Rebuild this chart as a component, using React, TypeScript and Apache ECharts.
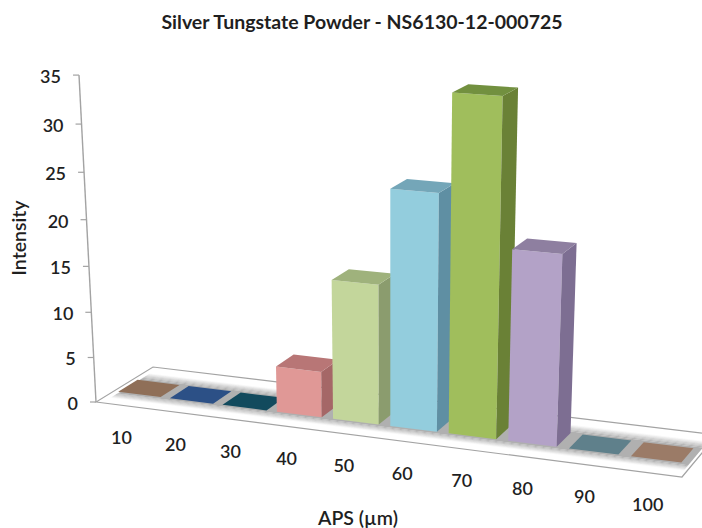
import React, { useEffect, useRef } from "react";
import * as echarts from "echarts";

const titleText = "Silver Tungstate Powder - NS6130-12-000725";
const xName = "APS (µm)";
const yName = "Intensity";
const categories = ["10", "20", "30", "40", "50", "60", "70", "80", "90", "100"];
const intensity = [0, 0, 0, 5, 15, 25, 35, 20, 0, 0];
const yTicks = [0, 5, 10, 15, 20, 25, 30, 35];
const frontColors = ["#8b6d57", "#2b4f84", "#12495c", "#e09896", "#c3d69b", "#93cddd", "#a0be5c", "#b3a2c7", "#5f7f8a", "#9a7a66"];
const topColors = ["#8f6f58", "#2c5086", "#124a5d", "#b87676", "#9fb27c", "#74a6b8", "#72903f", "#8e7fa0", "#5f808b", "#9b7b67"];
const sideColors = ["#8b6d57", "#2b4f84", "#12495c", "#a56767", "#8b9c6e", "#5f8fa3", "#6a8136", "#7d6e92", "#5f7f8a", "#9a7a66"];

const W = 702;
const H = 528;
const FONT = "Lato, 'Open Sans', sans-serif";
const TEXT = "#1f1f1f";
const LINE = "#a3a3a3";

// Perspective camera: u along the categories, w floor depth, t height (0..1)
function project(u: number, w: number, t: number): number[] {
  const D = 1 - 0.09406 * u + 0.04484 * w - 0.0545 * t;
  const x = (521.85 * u + 63.86 * w + 96 - 21.3 * t) / D;
  const y = (30.13 * u - 18.54 * w + 402 - 331 * t) / D;
  return [x, y];
}

const poly = (points: number[][], style: any) => ({ type: "polygon", silent: true, shape: { points }, style });
const text = (s: string, x: number, y: number, align: string, size: number) => ({
  type: "text",
  silent: true,
  style: {
    text: s, x, y, align, textAlign: align, verticalAlign: "middle", textVerticalAlign: "middle",
    fill: TEXT, font: `600 ${size}px ${FONT}`,
  },
});

function renderFloor() {
  const children: any[] = [];
  children.push(
    poly([project(0, 0, 0), project(1, 0, 0), project(1, 1, 0), project(0, 1, 0)], { fill: "#ffffff", stroke: LINE, lineWidth: 1.2 })
  );
  const band = (w0: number, w1: number, alpha: number) =>
    poly([project(0.012, w0, 0), project(0.995, w0, 0), project(0.995, w1, 0), project(0.012, w1, 0)], {
      fill: `rgba(176,176,176,${alpha})`,
    });
  children.push(band(0.26, 0.68, 1));
  const steps = 6;
  for (let s = 0; s < steps; s++) {
    const a = 1 - (s + 0.5) / steps;
    children.push(band(0.26 - (s + 1) * 0.02, 0.26 - s * 0.02, a));
    children.push(band(0.68 + s * 0.025, 0.68 + (s + 1) * 0.025, a));
  }
  return { type: "group", children };
}

function renderYAxis(params: any, api: any) {
  const t = 1 - api.coord([0, api.value(1)])[1] / H;
  const p = project(0, 0, t);
  const children: any[] = [
    { type: "line", silent: true, shape: { x1: p[0] - 6, y1: p[1], x2: p[0], y2: p[1] }, style: { stroke: LINE, lineWidth: 1.2 } },
    text(String(api.value(1)), p[0] - 18, p[1] + 1, "right", 18),
  ];
  if (params.dataIndex === 0) {
    const top = project(0, 0, 1);
    children.push({ type: "line", silent: true, shape: { x1: p[0], y1: p[1], x2: top[0], y2: top[1] }, style: { stroke: LINE, lineWidth: 1.4 } });
  }
  return { type: "group", children };
}

function renderXLabel(params: any, api: any) {
  const u = api.coord([api.value(0), 0])[0] / W - 0.008;
  const p = project(u, 0, 0);
  return text(categories[params.dataIndex], p[0] + 3, p[1] + 32, "center", 18);
}

function renderBar(params: any, api: any) {
  const i = params.dataIndex;
  const c = api.coord([api.value(0), api.value(1)]);
  const half = 0.04;
  const raw = c[0] / W;
  const um = raw - 0.008 + 0.008 * Math.max(0, (0.3 - raw) / 0.3);
  const u0 = um - half;
  const u1 = um + half;
  const t = 1 - c[1] / H;
  const w0 = 0.3;
  const w1 = 0.64;
  const A = project(u0, w0, 0);
  const B = project(u1, w0, 0);
  const C = project(u1, w1, 0);
  const A2 = project(u0, w0, t);
  const B2 = project(u1, w0, t);
  const C2 = project(u1, w1, t);
  const D2 = project(u0, w1, t);
  const children: any[] = [];
  if (t > 0) {
    children.push(poly([A, B, B2, A2], { fill: frontColors[i] }));
    children.push(poly([B, C, C2, B2], { fill: sideColors[i] }));
  }
  children.push(poly([A2, B2, C2, D2], { fill: topColors[i] }));
  return { type: "group", children };
}

export default function App() {
  const ref = useRef<HTMLDivElement>(null);
  useEffect(() => {
    const chart = echarts.init(ref.current!, undefined, { renderer: "svg" });
    chart.setOption({
      animation: false,
      backgroundColor: "#ffffff",
      title: {
        text: titleText,
        left: 357,
        top: 6,
        textAlign: "center",
        textStyle: { fontFamily: FONT, fontSize: 19.5, fontWeight: 700, color: TEXT },
      },
      grid: { left: 0, top: 0, width: W, height: H, containLabel: false },
      xAxis: { type: "category", data: categories, show: false, boundaryGap: true },
      yAxis: { type: "value", min: 0, max: 35, interval: 5, show: false },
      graphic: [
        {
          type: "text", x: 18, y: 238, rotation: Math.PI / 2, silent: true,
          style: { text: yName, align: "center", textAlign: "center", verticalAlign: "middle", textVerticalAlign: "middle", fill: TEXT, font: `600 19.5px ${FONT}` },
        },
        {
          type: "text", x: 358, y: 517, silent: true,
          style: { text: xName, align: "center", textAlign: "center", verticalAlign: "middle", textVerticalAlign: "middle", fill: TEXT, font: `600 19.5px ${FONT}` },
        },
      ],
      series: [
        { type: "custom", name: "floor", z: 1, silent: true, data: [[0, 0]], encode: { x: 0, y: 1 }, renderItem: renderFloor },
        { type: "custom", name: "yAxis", z: 2, silent: true, data: yTicks.map((v) => [0, v]), encode: { x: 0, y: 1 }, renderItem: renderYAxis },
        { type: "custom", name: "xLabels", z: 2, silent: true, data: categories.map((_, i) => [i, 0]), encode: { x: 0, y: 1 }, renderItem: renderXLabel },
        { type: "custom", name: "Intensity", z: 3, silent: true, data: intensity.map((v, i) => [i, v]), encode: { x: 0, y: 1 }, renderItem: renderBar },
      ],
    });
    return () => chart.dispose();
  }, []);
  return <div ref={ref} style={{ position: "absolute", left: 0, top: 0, width: W, height: H }} />;
}
